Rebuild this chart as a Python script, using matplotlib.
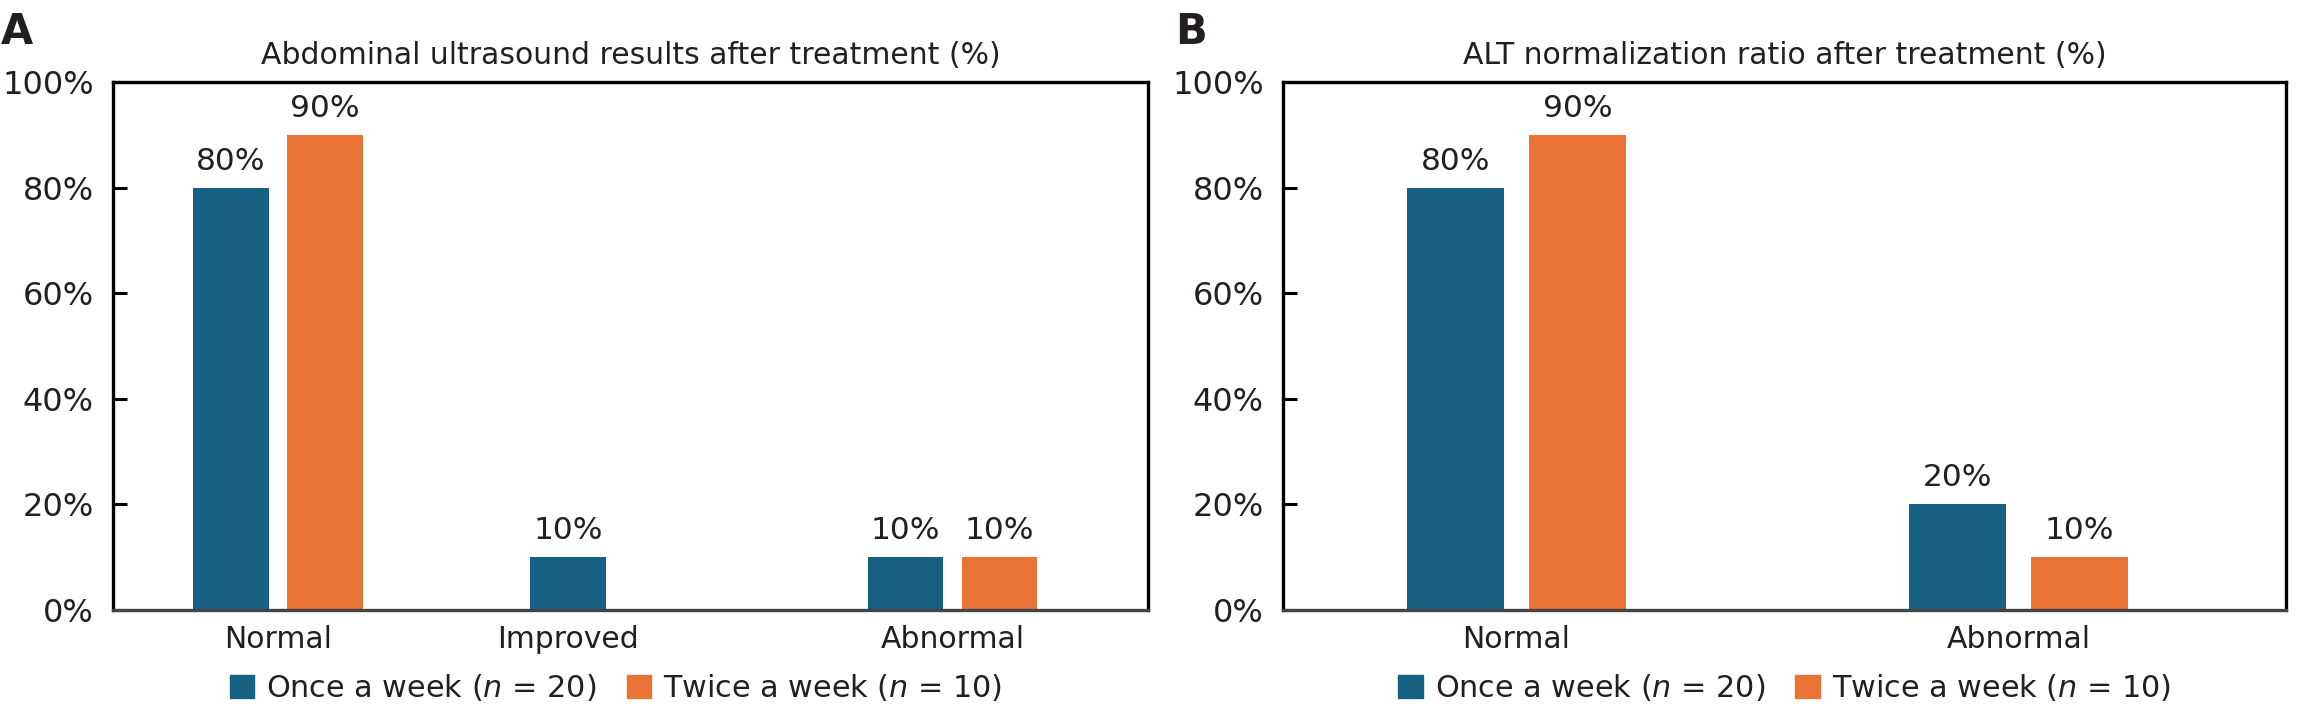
import matplotlib.pyplot as plt
from matplotlib.patches import Patch
import numpy as np

# Data
cats_a = ['Normal', 'Improved', 'Abnormal']
once_a = [80, 10, 10]
twice_a = [90, 0, 10]

cats_b = ['Normal', 'Abnormal']
once_b = [80, 20]
twice_b = [90, 10]

title_a = 'Abdominal ultrasound results after treatment (%)'
title_b = 'ALT normalization ratio after treatment (%)'
yticks = [0, 20, 40, 60, 80, 100]
legend_labels = ['Once a week ($\\it{n}$ = 20)', 'Twice a week ($\\it{n}$ = 10)']

BLUE = '#176082'
ORANGE = '#E97334'
TXT = '#231F20'

plt.rcParams['font.family'] = ['DejaVu Sans']
plt.rcParams['text.color'] = TXT
plt.rcParams['mathtext.fontset'] = 'dejavusans'

fig = plt.figure(figsize=(23.05, 7.16), dpi=100)


def panel(rect, cats, once, twice, width, off, xlim, title, letter, letter_x,
          tick_pos=None, leg_shift=0.0):
    ax = fig.add_axes(rect)
    x = np.arange(len(cats))
    for xi, v in zip(x, once):
        if v > 0:
            ax.bar(xi - off, v, width, color=BLUE)
            ax.text(xi - off, v + 2.3, f'{v}%', ha='center', va='bottom', fontsize=22.5)
    for xi, v in zip(x, twice):
        if v > 0:
            ax.bar(xi + off, v, width, color=ORANGE)
            ax.text(xi + off, v + 2.3, f'{v}%', ha='center', va='bottom', fontsize=22.5)
    ax.set_xlim(*xlim)
    ax.set_ylim(0, 100)
    ax.set_yticks(yticks)
    ax.set_yticklabels([f'{t}%' for t in yticks])
    ax.tick_params(axis='y', direction='in', length=10, width=2.2, labelsize=23,
                   pad=14, labelcolor=TXT)
    ax.set_xticks(tick_pos if tick_pos is not None else x)
    ax.set_xticklabels(cats)
    ax.tick_params(axis='x', length=0, labelsize=21.5, pad=11, labelcolor=TXT)
    for s in ax.spines.values():
        s.set_linewidth(2.4)
        s.set_color('black')
    ax.spines['bottom'].set_color('#444444')
    ax.set_title(title, fontsize=21.5, pad=13, color=TXT)
    handles = [Patch(color=BLUE), Patch(color=ORANGE)]
    l, b, w, h = rect
    fig.legend(handles, legend_labels, loc='center',
               bbox_to_anchor=(l + w / 2 + leg_shift, 0.04),
               ncol=2, frameon=False, fontsize=21.8, handlelength=0.8, handleheight=0.8,
               handletextpad=0.4, columnspacing=1.0)
    fig.text(letter_x, 0.955, letter, fontsize=30, fontweight='bold', color=TXT,
             ha='left', va='center')
    return ax


panel([0.0491, 0.148, 0.449, 0.737], cats_a, once_a, twice_a,
      0.224, 0.1394, (-0.488, 2.58), title_a, 'A', 0.0005,
      tick_pos=[0, 1 - 0.1394, 2], leg_shift=-0.0064)
panel([0.5568, 0.148, 0.4349, 0.737], cats_b, once_b, twice_b,
      0.193, 0.1215, (-0.464, 1.533), title_b, 'B', 0.510)

fig.savefig('out.png', dpi=100)
